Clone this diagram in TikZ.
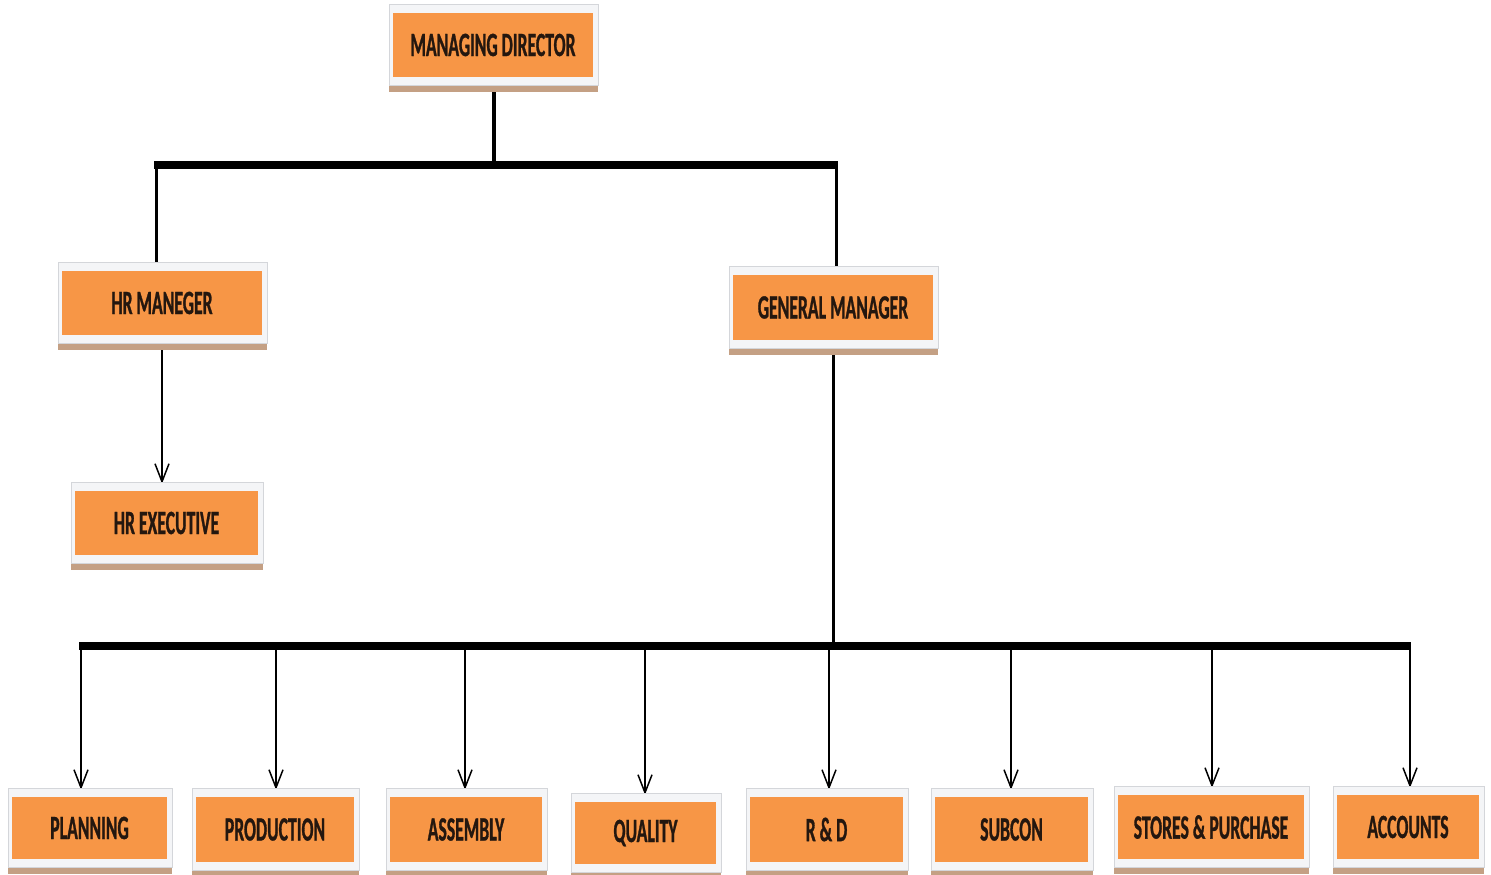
\documentclass[tikz,border=0pt]{standalone}
\usepackage{fontspec}
\newfontfamily\boxfont{Carlito}[FakeStretch=0.52, BoldFeatures={FakeBold=0.8}]
\usetikzlibrary{arrows.meta,backgrounds}
\definecolor{boxorange}{HTML}{F79646}
\definecolor{boxframe}{HTML}{F4F5F7}
\definecolor{boxedge}{HTML}{D4D6DA}
\definecolor{boxtan}{HTML}{C4A084}
\definecolor{boxtext}{HTML}{24170F}
\newcommand\orgbox[6]{% name cx cy w h text
  \fill[boxtan] ({#2-#4/2-4},{#3+#5/2+8}) rectangle ({#2+#4/2+5},{#3+#5/2+15});
  \filldraw[fill=boxframe,draw=boxedge,line width=0.8pt] ({#2-#4/2-4},{#3-#5/2-9}) rectangle ({#2+#4/2+5},{#3+#5/2+8});
  \node[obox,minimum width=#4pt,minimum height=#5pt] (#1) at (#2,#3) {#6};
}
\tikzset{
  obox/.style={rectangle, fill=boxorange, inner sep=0pt, text=boxtext,
    font=\boxfont\bfseries\fontsize{34}{40}\selectfont},
  busline/.style={line width=8.5pt},
  stemline/.style={line width=4.5pt},
  dropline/.style={line width=3pt},
  arr/.style={line width=1.5pt, -{Straight Barb[length=18pt,width=14pt]}, shorten >=7pt},
}
\begin{document}
\begin{tikzpicture}[x=1pt,y=-1pt]
\useasboundingbox (0,0) rectangle (1491,875);
% boxes
\orgbox{md}{493}{45}{200}{64}{MANAGING DIRECTOR}
\orgbox{hrm}{162}{303}{200}{64}{HR MANEGER}
\orgbox{hre}{166.5}{523}{183}{64}{HR EXECUTIVE}
\orgbox{gm}{833}{307.5}{200}{65}{GENERAL MANAGER}
\orgbox{planning}{89.5}{828}{155}{62}{PLANNING}
\orgbox{production}{275}{829.5}{158}{65}{PRODUCTION}
\orgbox{assembly}{466}{829.5}{152}{65}{ASSEMBLY}
\orgbox{quality}{645.5}{833}{141}{62}{QUALITY}
\orgbox{rd}{826.5}{829.5}{153}{65}{R \& D}
\orgbox{subcon}{1011.5}{829.5}{153}{65}{SUBCON}
\orgbox{stores}{1211}{827}{186}{64}{STORES \& PURCHASE}
\orgbox{accounts}{1408}{827}{142}{64}{ACCOUNTS}
% connectors
\begin{scope}[on background layer]
  \fill[white] (0,0) rectangle (1491,875);
  \coordinate (tL) at (156,165);
  \coordinate (tM) at (494,165);
  \coordinate (tR) at (836,165);
  \draw[busline] ([xshift=-2pt]tL) -- ([xshift=2pt]tR);
  \draw[stemline] (tM |- md.south) -- (tM);
  \draw[dropline] (tL) -- (tL |- hrm.north);
  \draw[dropline] (tR) -- (tR |- gm.north);
  \draw[arr] (hrm.south) -- (hrm.south |- hre.north);
  \coordinate (bL) at (79,646);
  \coordinate (bR) at (1411,646);
  \draw[busline] (bL) -- (bR);
  \draw[dropline] (gm.south) -- (gm.south |- bL);
  \foreach \n/\x in {planning/81, production/276, assembly/465, quality/645,
                     rd/829, subcon/1011, stores/1212, accounts/1410} {
    \coordinate (a\n) at (\x,646);
    \draw[arr] (a\n) -- (a\n |- \n.north);
  }
\end{scope}
\end{tikzpicture}
\end{document}
